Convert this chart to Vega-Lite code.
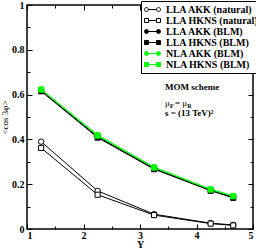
{
  "$schema": "https://vega.github.io/schema/vega-lite/v6.json",
  "width": 226,
  "height": 224,
  "autosize": "none",
  "padding": {"left": 27, "top": 5, "right": 3, "bottom": 21},
  "config": {
    "font": "Liberation Serif",
    "view": {"stroke": "black", "strokeWidth": 1.5},
    "axis": {"grid": false, "domain": false, "tickColor": "black", "labelColor": "black", "titleColor": "black", "labelFont": "Liberation Serif", "titleFont": "Liberation Serif", "labelFontWeight": "bold", "labelFontSize": 10, "tickWidth": 1}
  },
  "datasets": {
    "series": [
      {"Y": 1.25, "v": 0.39, "s": "LLA AKK (natural)"},
      {"Y": 2.25, "v": 0.17, "s": "LLA AKK (natural)"},
      {"Y": 3.25, "v": 0.066, "s": "LLA AKK (natural)"},
      {"Y": 4.25, "v": 0.026, "s": "LLA AKK (natural)"},
      {"Y": 4.65, "v": 0.018, "s": "LLA AKK (natural)"},
      {"Y": 1.25, "v": 0.362, "s": "LLA HKNS (natural)"},
      {"Y": 2.25, "v": 0.153, "s": "LLA HKNS (natural)"},
      {"Y": 3.25, "v": 0.062, "s": "LLA HKNS (natural)"},
      {"Y": 4.25, "v": 0.024, "s": "LLA HKNS (natural)"},
      {"Y": 4.65, "v": 0.016, "s": "LLA HKNS (natural)"},
      {"Y": 1.25, "v": 0.618, "s": "LLA AKK (BLM)"},
      {"Y": 2.25, "v": 0.412, "s": "LLA AKK (BLM)"},
      {"Y": 3.25, "v": 0.27, "s": "LLA AKK (BLM)"},
      {"Y": 4.25, "v": 0.173, "s": "LLA AKK (BLM)"},
      {"Y": 4.65, "v": 0.142, "s": "LLA AKK (BLM)"},
      {"Y": 1.25, "v": 0.615, "s": "LLA HKNS (BLM)"},
      {"Y": 2.25, "v": 0.408, "s": "LLA HKNS (BLM)"},
      {"Y": 3.25, "v": 0.267, "s": "LLA HKNS (BLM)"},
      {"Y": 4.25, "v": 0.171, "s": "LLA HKNS (BLM)"},
      {"Y": 4.65, "v": 0.139, "s": "LLA HKNS (BLM)"},
      {"Y": 1.25, "v": 0.622, "s": "NLA HKNS (BLM)"},
      {"Y": 2.25, "v": 0.417, "s": "NLA HKNS (BLM)"},
      {"Y": 3.25, "v": 0.274, "s": "NLA HKNS (BLM)"},
      {"Y": 4.25, "v": 0.176, "s": "NLA HKNS (BLM)"},
      {"Y": 4.65, "v": 0.146, "s": "NLA HKNS (BLM)"},
      {"Y": 1.25, "v": 0.624, "s": "NLA AKK (BLM)"},
      {"Y": 2.25, "v": 0.42, "s": "NLA AKK (BLM)"},
      {"Y": 3.25, "v": 0.276, "s": "NLA AKK (BLM)"},
      {"Y": 4.25, "v": 0.178, "s": "NLA AKK (BLM)"},
      {"Y": 4.65, "v": 0.148, "s": "NLA AKK (BLM)"}
    ],
    "boldNotes": [
      {"Y": 3.442, "v": 0.634, "t": "MOM scheme"},
      {"Y": 3.442, "v": 0.518, "t": "s = (13 TeV)²"}
    ],
    "plainNotes": [
      {"Y": 3.442, "v": 0.5625, "t": "μ"},
      {"Y": 3.62, "v": 0.5625, "t": "= μ"}
    ],
    "subs": [
      {"Y": 3.53, "v": 0.551, "t": "F"},
      {"Y": 3.835, "v": 0.551, "t": "R"}
    ]
  },
  "resolve": {"axis": {"x": "independent", "y": "independent"}},
  "layer": [
    {
      "data": {"name": "series"},
      "mark": {"type": "line", "strokeWidth": 1},
      "encoding": {
        "x": {"field": "Y", "type": "quantitative", "scale": {"domain": [1, 5], "nice": false, "zero": false},
          "axis": {"orient": "bottom", "values": [1, 2, 3, 4, 5], "format": "d", "tickSize": -5, "labelPadding": 6, "title": "Y", "titleFontWeight": "bold", "titleFontSize": 10, "titleY": 18, "titleBaseline": "alphabetic"}},
        "y": {"field": "v", "type": "quantitative", "scale": {"domain": [0, 1], "nice": false, "zero": false},
          "axis": {"orient": "left", "values": [0, 0.2, 0.4, 0.6, 0.8, 1], "format": "~g", "tickSize": -5, "labelPadding": 8, "title": "<cos 3φ>", "titleFontWeight": "normal", "titleFontSize": 9, "titlePadding": 2}},
        "color": {"field": "s", "type": "nominal",
          "scale": {"domain": ["LLA AKK (natural)", "LLA HKNS (natural)", "LLA AKK (BLM)", "LLA HKNS (BLM)", "NLA AKK (BLM)", "NLA HKNS (BLM)"], "range": ["black", "black", "black", "black", "#00ff00", "#00ff00"]},
          "legend": {
            "orient": "none", "legendX": 114, "legendY": -4, "title": null,
            "strokeColor": "black", "fillColor": "white", "padding": 3,
            "symbolSize": 100, "labelOffset": 11, "rowPadding": -0.6,
            "labelFont": "Liberation Serif", "labelFontWeight": "bold", "labelFontSize": 10, "labelColor": "black",
            "encode": {"symbols": {"update": {
              "shape": {"signal": "indexof(datum.value,'AKK')>=0 ? 'M-0.2,0L1.4,0M-1,0A0.4,0.4,0,1,0,-0.2,0A0.4,0.4,0,1,0,-1,0M1.4,0A0.4,0.4,0,1,0,2.2,0A0.4,0.4,0,1,0,1.4,0' : 'M-0.2,0L1.4,0M-1,-0.4L-0.2,-0.4L-0.2,0.4L-1,0.4ZM1.4,-0.4L2.2,-0.4L2.2,0.4L1.4,0.4Z'"},
              "fill": {"signal": "indexof(datum.value,'natural')>=0 ? 'white' : (indexof(datum.value,'NLA')>=0 ? '#00ff00' : 'black')"},
              "stroke": {"signal": "indexof(datum.value,'NLA')>=0 ? '#00ff00' : 'black'"},
              "strokeWidth": {"value": 1},
              "opacity": {"value": 1},
              "fillOpacity": {"value": 1}
            }}}
          }}
      }
    },
    {
      "data": {"name": "series"},
      "transform": [{"filter": "indexof(datum.s,'AKK') >= 0"}],
      "mark": {"type": "point", "shape": "circle", "filled": false, "strokeWidth": 1, "opacity": 1, "size": 30},
      "encoding": {
        "x": {"field": "Y", "type": "quantitative", "axis": {"orient": "top", "values": [1, 2, 3, 4, 5], "labels": false, "tickSize": -5, "title": null}},
        "y": {"field": "v", "type": "quantitative", "axis": {"orient": "right", "values": [0, 0.2, 0.4, 0.6, 0.8, 1], "labels": false, "tickSize": -5, "title": null}},
        "fill": {"field": "s", "type": "nominal", "legend": null,
          "scale": {"domain": ["LLA AKK (natural)", "LLA HKNS (natural)", "LLA AKK (BLM)", "LLA HKNS (BLM)", "NLA AKK (BLM)", "NLA HKNS (BLM)"], "range": ["white", "white", "black", "black", "#00ff00", "#00ff00"]}},
        "stroke": {"field": "s", "type": "nominal", "legend": null,
          "scale": {"domain": ["LLA AKK (natural)", "LLA HKNS (natural)", "LLA AKK (BLM)", "LLA HKNS (BLM)", "NLA AKK (BLM)", "NLA HKNS (BLM)"], "range": ["black", "black", "black", "black", "#00ff00", "#00ff00"]}}
      }
    },
    {
      "data": {"name": "series"},
      "transform": [{"filter": "indexof(datum.s,'HKNS') >= 0"}],
      "mark": {"type": "point", "shape": "square", "filled": false, "strokeWidth": 1, "opacity": 1, "size": 26},
      "encoding": {
        "x": {"field": "Y", "type": "quantitative", "axis": null},
        "y": {"field": "v", "type": "quantitative", "axis": null},
        "fill": {"field": "s", "type": "nominal", "legend": null},
        "stroke": {"field": "s", "type": "nominal", "legend": null}
      }
    },
    {
      "data": {"name": "boldNotes"},
      "mark": {"type": "text", "align": "left", "baseline": "middle", "fontSize": 9, "fontWeight": "bold", "font": "Liberation Serif", "color": "black"},
      "encoding": {
        "x": {"field": "Y", "type": "quantitative", "axis": {"orient": "bottom", "values": [1.5, 2.5, 3.5, 4.5], "labels": false, "tickSize": -3, "title": null}},
        "y": {"field": "v", "type": "quantitative", "axis": {"orient": "left", "values": [0.1, 0.3, 0.5, 0.7, 0.9], "labels": false, "tickSize": -3, "title": null}},
        "text": {"field": "t"}
      }
    },
    {
      "data": {"name": "plainNotes"},
      "mark": {"type": "text", "align": "left", "baseline": "middle", "fontSize": 9, "font": "Liberation Serif", "color": "black"},
      "encoding": {
        "x": {"field": "Y", "type": "quantitative", "axis": {"orient": "top", "values": [1.5, 2.5, 3.5, 4.5], "labels": false, "tickSize": -3, "title": null}},
        "y": {"field": "v", "type": "quantitative", "axis": {"orient": "right", "values": [0.1, 0.3, 0.5, 0.7, 0.9], "labels": false, "tickSize": -3, "title": null}},
        "text": {"field": "t"}
      }
    },
    {
      "data": {"name": "subs"},
      "mark": {"type": "text", "align": "left", "baseline": "middle", "fontSize": 6, "fontWeight": "bold", "font": "Liberation Serif", "color": "black"},
      "encoding": {
        "x": {"field": "Y", "type": "quantitative", "axis": null},
        "y": {"field": "v", "type": "quantitative", "axis": null},
        "text": {"field": "t"}
      }
    }
  ]
}
